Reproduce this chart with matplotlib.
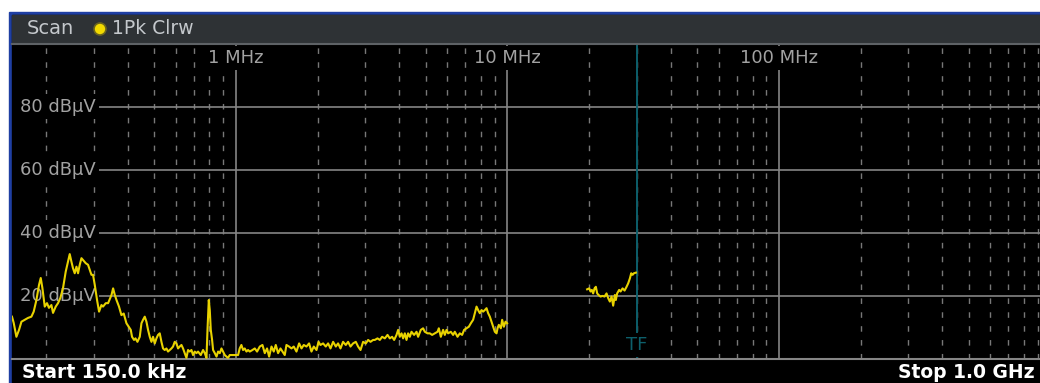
"""Spectrum analyzer scan screenshot (1Pk Clrw trace, 150 kHz - 1 GHz)."""
import matplotlib
matplotlib.use("Agg")
import matplotlib.pyplot as plt
from matplotlib.patches import Rectangle, Ellipse

W, H = 1040, 383

# trace, first sweep segment (MHz, dBuV)
seg1_freq = [
    0.150, 0.1522, 0.1557, 0.1592, 0.1625, 0.1671, 0.1718, 0.1768, 0.1803, 0.1845,
    0.1886, 0.1914, 0.1941, 0.1980, 0.2018, 0.2052, 0.2095, 0.2124, 0.2173, 0.2216,
    0.2261, 0.2312, 0.2365, 0.2412, 0.2447, 0.2482, 0.2516, 0.2553, 0.2591, 0.2626,
    0.2664, 0.2703, 0.2740, 0.2803, 0.2858, 0.2900, 0.2942, 0.2982, 0.3026, 0.3085,
    0.3138, 0.3202, 0.3246, 0.3322, 0.3388, 0.3487, 0.3535, 0.3586, 0.3638, 0.3716,
    0.3793, 0.3868, 0.3958, 0.4036, 0.4106, 0.4150, 0.4221, 0.4272, 0.4345, 0.4431,
    0.4495, 0.4557, 0.4623, 0.4690, 0.4754, 0.4823, 0.4893, 0.4960, 0.5032, 0.5104,
    0.5174, 0.5249, 0.5325, 0.5398, 0.5476, 0.5556, 0.5632, 0.5713, 0.5797, 0.5876,
    0.5960, 0.6048, 0.6131, 0.6219, 0.6310, 0.6395, 0.6489, 0.6582, 0.6673, 0.6770,
    0.6868, 0.6962, 0.7063, 0.7166, 0.7264, 0.7433, 0.7580, 0.7690, 0.7802, 0.7869,
    0.7956, 0.8023, 0.8092, 0.8182, 0.8252, 0.8373, 0.8494, 0.8609, 0.8735, 0.8859,
    0.8979, 0.9110, 0.9241, 0.9367, 0.9503, 0.9915, 1.020, 1.034, 1.049, 1.064,
    1.079, 1.095, 1.110,
    1.126, 1.152, 1.175, 1.198, 1.226, 1.254, 1.279, 1.304, 1.327, 1.354,
    1.380, 1.404, 1.432, 1.461, 1.486, 1.515, 1.537, 1.571, 1.604, 1.635,
    1.673, 1.711, 1.746, 1.780, 1.821, 1.862, 1.900, 1.938, 1.983, 2.017,
    2.051, 2.097, 2.145, 2.188, 2.233, 2.283, 2.336, 2.381, 2.430, 2.484,
    2.542, 2.592, 2.645, 2.704, 2.767, 2.822, 2.880, 2.944, 3.012, 3.072,
    3.134, 3.204,
    3.251, 3.326, 3.392, 3.459, 3.539, 3.621, 3.692, 3.765, 3.830, 3.908,
    3.962, 4.019, 4.077, 4.133, 4.193, 4.253, 4.311, 4.374, 4.437, 4.536,
    4.630, 4.693, 4.801, 4.896, 4.967, 5.082, 5.182, 5.284, 5.408, 5.533,
    5.594, 5.690, 5.801, 5.885, 5.971, 6.053, 6.193, 6.315, 6.406, 6.555,
    6.683, 6.815, 6.932, 7.075, 7.215, 7.339, 7.482, 7.591, 7.702, 7.806,
    7.920, 8.035, 8.145, 8.263, 8.383, 8.498, 8.621, 8.747, 8.867, 8.995,
    9.125, 9.203, 9.305, 9.465, 9.570, 9.708, 9.849, 9.98,
]
seg1_level = [
    13.3, 11.3, 6.9, 9.1, 11.7, 12.3, 12.9, 13.3, 14.9, 18.6,
    23.4, 25.6, 22.4, 16.5, 17.6, 16.1, 17.0, 14.5, 16.5, 17.6,
    19.3, 22.4, 27.6, 30.8, 33.2, 30.8, 28.7, 27.1, 29.2, 27.1,
    29.8, 31.9, 31.3, 30.3, 29.8, 28.2, 26.6, 26.6, 23.4, 18.6,
    14.9, 17.0, 16.5, 17.6, 17.6, 20.2, 22.3, 20.2, 18.6, 16.5,
    13.8, 14.3, 11.2, 10.1, 9.1, 6.9, 5.9, 6.4, 5.3, 6.9,
    11.2, 12.3, 13.3, 11.7, 9.1, 6.9, 5.3, 6.9, 4.8, 6.4,
    7.5, 8.0, 5.3, 3.2, 2.7, 3.2, 2.2, 2.7, 3.2, 3.8,
    5.3, 4.8, 3.2, 3.8, 4.3, 3.2, 1.7, 0.2, 2.7, 2.2,
    2.7, 1.1, 2.2, 1.7, 2.2, 1.1, 2.7, 1.7, 0.2, 9.1,
    18.6, 15.4, 9.1, 5.9, 2.7, 1.7, 0.6, 2.2, 1.7, 3.2,
    2.2, 1.1, 0.6, 0.2, 1.1, 1.1, 1.1, 3.2, 4.3, 2.7,
    3.2, 2.2, 2.7,
    2.2, 2.7, 3.2, 2.2, 3.8, 4.3, 1.7, 3.2, 0.6, 3.8,
    2.2, 4.3, 1.7, 3.2, 2.2, 1.1, 4.3, 3.8, 3.2, 3.8,
    2.2, 4.8, 3.2, 4.3, 3.8, 4.8, 2.2, 3.8, 2.7, 5.3,
    4.3, 4.8, 3.8, 4.8, 3.2, 5.3, 3.8, 4.8, 3.2, 5.3,
    4.3, 5.3, 3.8, 4.8, 5.3, 3.8, 2.7, 5.3, 4.8, 5.9,
    5.3, 5.9,
    5.9, 6.4, 5.9, 6.9, 6.4, 7.5, 6.4, 6.9, 5.9, 7.5,
    9.1, 6.9, 8.0, 6.4, 8.0, 5.9, 8.0, 6.9, 8.5, 7.5,
    8.5, 6.9, 9.1, 9.6, 8.5, 8.0, 8.0, 7.5, 8.0, 8.5,
    9.6, 6.9, 9.1, 7.5, 9.1, 8.0, 8.5, 7.5, 8.5, 6.9,
    8.0, 7.5, 9.1, 9.6, 10.1, 11.2, 12.3, 14.4, 16.5, 15.4,
    14.4, 15.4, 14.9, 15.4, 16.0, 14.4, 13.3, 11.7, 10.1, 8.5,
    8.0, 9.6, 10.7, 9.6, 12.3, 10.1, 11.7, 11.2,
]

# second sweep segment (MHz, dBuV)
seg2_freq = [
    19.67, 20.01, 20.25, 20.47, 20.70, 20.95, 21.18, 21.42, 21.67, 22.04,
    22.42, 22.80, 23.19, 23.51, 23.85, 24.20, 24.53, 24.88, 25.09, 25.37,
    25.81, 26.12, 26.57, 27.02, 27.48, 27.86, 28.27, 28.58, 28.92, 29.24,
    29.74,
]
seg2_level = [
    22.0, 22.3, 21.3, 21.8, 20.7, 22.3, 22.8, 20.7, 20.2, 19.7,
    19.9, 19.7, 20.7, 19.2, 18.1, 19.7, 16.8, 20.2, 18.6, 20.7,
    21.8, 21.3, 22.3, 21.6, 22.8, 23.9, 25.5, 27.1, 26.6, 27.1,
    27.3,
]

level_ticks = [20, 40, 60, 80]
freq_labels = {1e6: "1 MHz", 10e6: "10 MHz", 100e6: "100 MHz"}
tf_freq = 30e6

BLUE = "#1f3fa3"
HEADER = "#2e3235"
GRID = "#858585"
GRID_DASH = "#787878"
LABEL = "#a2a2a2"
TRACE = "#e8d200"
TEAL = "#0d5f6b"


def fx(x):
    return x / W


def fy(y):
    return 1 - y / H


fig = plt.figure(figsize=(W / 100, H / 100), dpi=100, facecolor="white")

# frame: blue border, header bar, black body
fig.add_artist(Rectangle((fx(9), 0), fx(W - 9), fy(12), transform=fig.transFigure,
                         color=BLUE, zorder=0))
fig.add_artist(Rectangle((fx(12), 0), fx(W - 12), fy(15), transform=fig.transFigure,
                         color="black", zorder=0))
fig.add_artist(Rectangle((fx(12), fy(43)), fx(W - 12), fy(15) - fy(43),
                         transform=fig.transFigure, color=HEADER, zorder=0))

fig.text(fx(27), fy(29), "Scan", color="#c4c8cc", fontsize=14, va="center", ha="left")
fig.add_artist(Ellipse((fx(100), fy(29)), fx(12), 12 / H, transform=fig.transFigure,
                       facecolor="#f2da00", edgecolor="#6a6420", lw=1.2))
fig.text(fx(112), fy(29), "1Pk Clrw", color="#c4c8cc", fontsize=13.5, va="center", ha="left")

fig.text(fx(22), fy(372), "Start 150.0 kHz", color="white", fontsize=13.5,
         fontweight="bold", va="center", ha="left")
fig.text(fx(1035), fy(372), "Stop 1.0 GHz", color="white", fontsize=13.5,
         fontweight="bold", va="center", ha="right")

# plot area (right edge runs a little past the screenshot)
ax = fig.add_axes([fx(12), fy(358.5), fx(1050.5 - 12), fy(44) - fy(358.5)])
ax.set_facecolor("black")
ax.set_xscale("log")
ax.set_xlim(150e3, 1e9)
ax.set_ylim(0, 100)
ax.set_xticks([])
ax.set_yticks([])
ax.minorticks_off()
for side in ("left", "right"):
    ax.spines[side].set_visible(False)
ax.spines["bottom"].set_color(GRID)
ax.spines["bottom"].set_linewidth(1.5)
ax.spines["top"].set_color("#5e6266")
ax.spines["top"].set_linewidth(1.5)

for decade in (1e5, 1e6, 1e7, 1e8):
    for m in range(2, 10):
        f = decade * m
        if 150e3 < f < 1e9:
            ax.axvline(f, color=GRID_DASH, lw=1.0, dashes=(4, 6), zorder=1)
for f in freq_labels:
    ax.axvline(f, color=GRID, lw=1.2, zorder=1)
label_x = (20 - 12) / (1050.5 - 12)
for lv in level_ticks:
    ax.axhline(lv, xmin=label_x, color=GRID, lw=1.2, zorder=1)

ax.axvline(tf_freq, color=TEAL, lw=1.4, zorder=1.5)

box = dict(facecolor="black", edgecolor="none", pad=2.5)
for lv in level_ticks:
    ax.text(label_x, lv, f"{lv} dBµV", transform=ax.get_yaxis_transform(),
            color=LABEL, fontsize=13, va="center", ha="left", bbox=box, zorder=2)
for f, lab in freq_labels.items():
    ax.text(f, (358.5 - 58) / 314.5, lab, transform=ax.get_xaxis_transform(),
            color=LABEL, fontsize=13, va="center", ha="center", bbox=box, zorder=2)
ax.text(tf_freq, (358.5 - 345) / 314.5, "TF", transform=ax.get_xaxis_transform(),
        color=TEAL, fontsize=13, va="center", ha="center", bbox=box, zorder=2)

ax.plot([f * 1e6 for f in seg1_freq], seg1_level, color=TRACE, lw=1.5, zorder=3)
ax.plot([f * 1e6 for f in seg2_freq], seg2_level, color=TRACE, lw=1.5, zorder=3)

fig.savefig("out.png", dpi=100, facecolor="white")
